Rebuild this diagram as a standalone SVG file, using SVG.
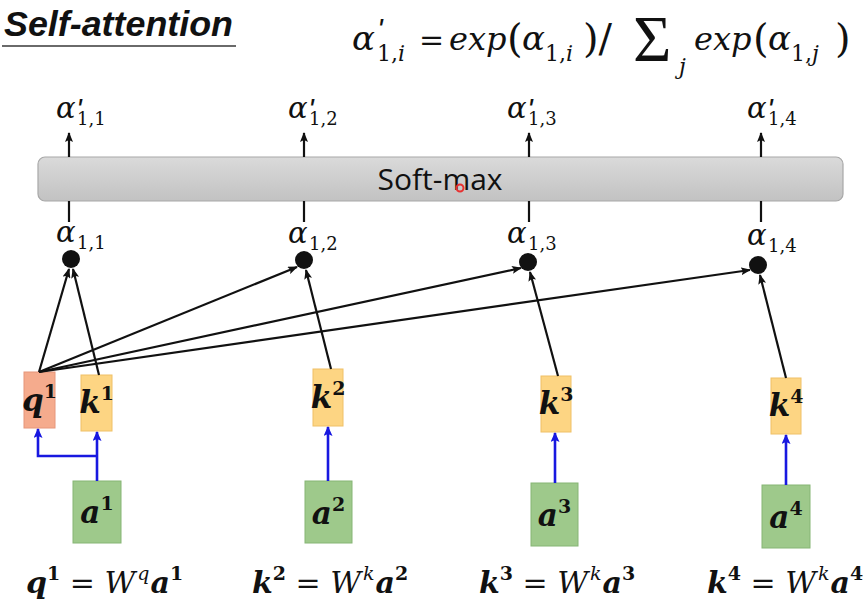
<svg xmlns="http://www.w3.org/2000/svg" width="865" height="610" viewBox="0 0 865 610">
<style>
.m{font-family:"DejaVu Serif","Liberation Serif",serif;fill:#111}
.it{font-style:italic}
.up{font-style:normal}
.b{font-weight:bold}
.al{font-size:29px;font-style:italic}
.pr{font-family:"Liberation Sans",Arial,sans-serif;font-size:30px;font-style:italic}
.sub{font-size:18px;font-style:normal}
.lbl{font-size:31px;font-weight:bold;font-style:italic}
.sp{font-size:19px;font-weight:bold;font-style:normal}
.eq{font-size:30px}
.q{fill:#f5ab8d;stroke:#e6967a;stroke-width:1}
.k{fill:#fdd583;stroke:#efc066;stroke-width:1}
.a{fill:#9ec98b;stroke:#86b574;stroke-width:1}
.blk{stroke:#111;stroke-width:2.2;fill:none}
.blu{stroke:#1818e0;stroke-width:2.6;fill:none}
</style>
<defs>
<marker id="ah" markerUnits="userSpaceOnUse" markerWidth="10" markerHeight="8" refX="9" refY="4" orient="auto"><path d="M0,0 L10,4 L0,8 L2,4 z" fill="#111"/></marker>
<marker id="bh" markerUnits="userSpaceOnUse" markerWidth="10" markerHeight="9" refX="9" refY="4.5" orient="auto"><path d="M0,0 L10,4.5 L0,9 L2,4.5 z" fill="#1818e0"/></marker>
<linearGradient id="gb" x1="0" y1="0" x2="0" y2="1"><stop offset="0" stop-color="#dadada"/><stop offset="1" stop-color="#c2c2c2"/></linearGradient>
</defs>

<g id="title">
<text x="4" y="36" font-family="Liberation Sans, Arial, sans-serif" font-size="35" font-weight="bold" font-style="italic" textLength="229" lengthAdjust="spacingAndGlyphs" fill="#111">Self-attention</text>
<line x1="2" y1="46" x2="236" y2="46" stroke="#6a6a6a" stroke-width="2"/>
</g>

<g id="formula" class="m">
<text x="352" y="50" font-size="34"><tspan class="it">α</tspan><tspan class="pr" font-size="36" x="377" y="39">'</tspan><tspan class="up" font-size="22" x="377" y="61">1,</tspan><tspan class="it" font-size="22">i</tspan></text>
<text x="419" y="50" font-size="30" class="up">=</text>
<text x="449" y="50" font-size="32" class="it">exp</text>
<text x="507" y="52" font-size="40" class="up">(</text>
<text x="522" y="50" font-size="34"><tspan class="it">α</tspan><tspan class="up" font-size="22" x="545" y="61">1,</tspan><tspan class="it" font-size="22">i</tspan></text>
<text x="583" y="52" font-size="40" class="up">)/</text>
<text x="633" y="61" font-size="66" font-family="Liberation Serif, serif" class="up">Σ</text>
<text x="679" y="74" font-size="22" class="it">j</text>
<text x="694" y="50" font-size="32" class="it">exp</text>
<text x="753" y="52" font-size="40" class="up">(</text>
<text x="768" y="50" font-size="34"><tspan class="it">α</tspan><tspan class="up" font-size="22" x="791" y="61">1,</tspan><tspan class="it" font-size="22">j</tspan></text>
<text x="835" y="52" font-size="40" class="up">)</text>
</g>

<g id="softmax">
<rect x="38" y="157" width="805" height="44" rx="7" fill="url(#gb)" stroke="#a8a8a8" stroke-width="1.2"/>
<text x="440" y="190" text-anchor="middle" font-family="Open Sans, Liberation Sans, sans-serif" font-size="30" fill="#111">Soft-max</text>
<circle cx="460" cy="188" r="3.5" fill="none" stroke="#e83030" stroke-width="2"/>
</g>

<g id="outputs" class="m">
<text x="56" y="118"><tspan class="al">α</tspan><tspan class="pr" x="76" y="119">'</tspan><tspan class="sub" x="77" y="125">1,1</tspan></text>
<text x="288" y="118"><tspan class="al">α</tspan><tspan class="pr" x="308" y="119">'</tspan><tspan class="sub" x="309" y="125">1,2</tspan></text>
<text x="507" y="118"><tspan class="al">α</tspan><tspan class="pr" x="527" y="119">'</tspan><tspan class="sub" x="528" y="125">1,3</tspan></text>
<text x="747" y="118"><tspan class="al">α</tspan><tspan class="pr" x="767" y="119">'</tspan><tspan class="sub" x="768" y="125">1,4</tspan></text>
</g>

<g id="scores" class="m">
<text x="56" y="242"><tspan class="al">α</tspan><tspan class="sub" x="77" y="249">1,1</tspan></text>
<text x="288" y="243"><tspan class="al">α</tspan><tspan class="sub" x="309" y="250">1,2</tspan></text>
<text x="507" y="243"><tspan class="al">α</tspan><tspan class="sub" x="528" y="250">1,3</tspan></text>
<text x="747" y="245"><tspan class="al">α</tspan><tspan class="sub" x="768" y="252">1,4</tspan></text>
</g>

<g id="dot1"><circle cx="71" cy="259" r="9" fill="#111"/></g>
<g id="dot2"><circle cx="304" cy="260" r="9" fill="#111"/></g>
<g id="dot3"><circle cx="528" cy="262" r="9" fill="#111"/></g>
<g id="dot4"><circle cx="758" cy="265" r="9" fill="#111"/></g>

<g id="q1"><rect class="q" x="24" y="372" width="31" height="56"/><text class="m lbl" x="39.5" y="411" text-anchor="middle">q<tspan class="sp" dy="-13">1</tspan></text></g>
<g id="k1"><rect class="k" x="81" y="375" width="31" height="56"/><text class="m lbl" x="96.5" y="413" text-anchor="middle">k<tspan class="sp" dy="-13">1</tspan></text></g>
<g id="k2"><rect class="k" x="313" y="369" width="30" height="57"/><text class="m lbl" x="328" y="408" text-anchor="middle">k<tspan class="sp" dy="-13">2</tspan></text></g>
<g id="k3"><rect class="k" x="541" y="376" width="30" height="56"/><text class="m lbl" x="556" y="414" text-anchor="middle">k<tspan class="sp" dy="-13">3</tspan></text></g>
<g id="k4"><rect class="k" x="771" y="378" width="30" height="56"/><text class="m lbl" x="786" y="416" text-anchor="middle">k<tspan class="sp" dy="-13">4</tspan></text></g>

<g id="a1"><rect class="a" x="73" y="481" width="48" height="62"/><text class="m lbl" x="97" y="523" text-anchor="middle">a<tspan class="sp" dy="-13">1</tspan></text></g>
<g id="a2"><rect class="a" x="305" y="481" width="47" height="62"/><text class="m lbl" x="328.5" y="524" text-anchor="middle">a<tspan class="sp" dy="-13">2</tspan></text></g>
<g id="a3"><rect class="a" x="531" y="483" width="47" height="63"/><text class="m lbl" x="554.5" y="526" text-anchor="middle">a<tspan class="sp" dy="-13">3</tspan></text></g>
<g id="a4"><rect class="a" x="762" y="485" width="48" height="63"/><text class="m lbl" x="786" y="528" text-anchor="middle">a<tspan class="sp" dy="-13">4</tspan></text></g>

<g id="connectors">
<line class="blk" x1="69" y1="157" x2="69" y2="133" marker-end="url(#ah)"/>
<line class="blk" x1="304" y1="157" x2="304" y2="133" marker-end="url(#ah)"/>
<line class="blk" x1="529" y1="157" x2="529" y2="133" marker-end="url(#ah)"/>
<line class="blk" x1="761" y1="157" x2="761" y2="133" marker-end="url(#ah)"/>
<line class="blk" x1="69" y1="201" x2="69" y2="222"/>
<line class="blk" x1="304" y1="201" x2="304" y2="222"/>
<line class="blk" x1="529" y1="201" x2="529" y2="222"/>
<line class="blk" x1="761" y1="201" x2="761" y2="222"/>

<line class="blk" x1="39" y1="372" x2="69" y2="269" marker-end="url(#ah)"/>
<line class="blk" x1="99" y1="375" x2="73" y2="269" marker-end="url(#ah)"/>
<line class="blk" x1="39" y1="372" x2="297" y2="267" marker-end="url(#ah)"/>
<line class="blk" x1="331" y1="369" x2="306" y2="270" marker-end="url(#ah)"/>
<line class="blk" x1="39" y1="372" x2="521" y2="268" marker-end="url(#ah)"/>
<line class="blk" x1="558" y1="376" x2="530" y2="272" marker-end="url(#ah)"/>
<line class="blk" x1="39" y1="372" x2="750" y2="270" marker-end="url(#ah)"/>
<line class="blk" x1="786" y1="378" x2="760" y2="275" marker-end="url(#ah)"/>

<path class="blu" d="M97,481 V432" marker-end="url(#bh)"/>
<path class="blu" d="M97,456 H38 V429" marker-end="url(#bh)"/>
<path class="blu" d="M328,481 V427" marker-end="url(#bh)"/>
<path class="blu" d="M555,483 V433" marker-end="url(#bh)"/>
<path class="blu" d="M786,485 V435" marker-end="url(#bh)"/>
</g>

<g id="equations" class="m eq">
<text x="26" y="593"><tspan class="b it">q</tspan><tspan class="sp" dy="-13">1</tspan><tspan class="up" dy="13"> = </tspan><tspan class="it">W</tspan><tspan class="it" font-size="19" dx="2" dy="-13">q</tspan><tspan class="b it" dx="1" dy="13">a</tspan><tspan class="sp" dy="-13">1</tspan></text>
<text x="252" y="593"><tspan class="b it">k</tspan><tspan class="sp" dy="-13">2</tspan><tspan class="up" dy="13"> = </tspan><tspan class="it">W</tspan><tspan class="it" font-size="19" dx="2" dy="-13">k</tspan><tspan class="b it" dx="1" dy="13">a</tspan><tspan class="sp" dy="-13">2</tspan></text>
<text x="479" y="593"><tspan class="b it">k</tspan><tspan class="sp" dy="-13">3</tspan><tspan class="up" dy="13"> = </tspan><tspan class="it">W</tspan><tspan class="it" font-size="19" dx="2" dy="-13">k</tspan><tspan class="b it" dx="1" dy="13">a</tspan><tspan class="sp" dy="-13">3</tspan></text>
<text x="707" y="593"><tspan class="b it">k</tspan><tspan class="sp" dy="-13">4</tspan><tspan class="up" dy="13"> = </tspan><tspan class="it">W</tspan><tspan class="it" font-size="19" dx="2" dy="-13">k</tspan><tspan class="b it" dx="1" dy="13">a</tspan><tspan class="sp" dy="-13">4</tspan></text>
</g>
</svg>
